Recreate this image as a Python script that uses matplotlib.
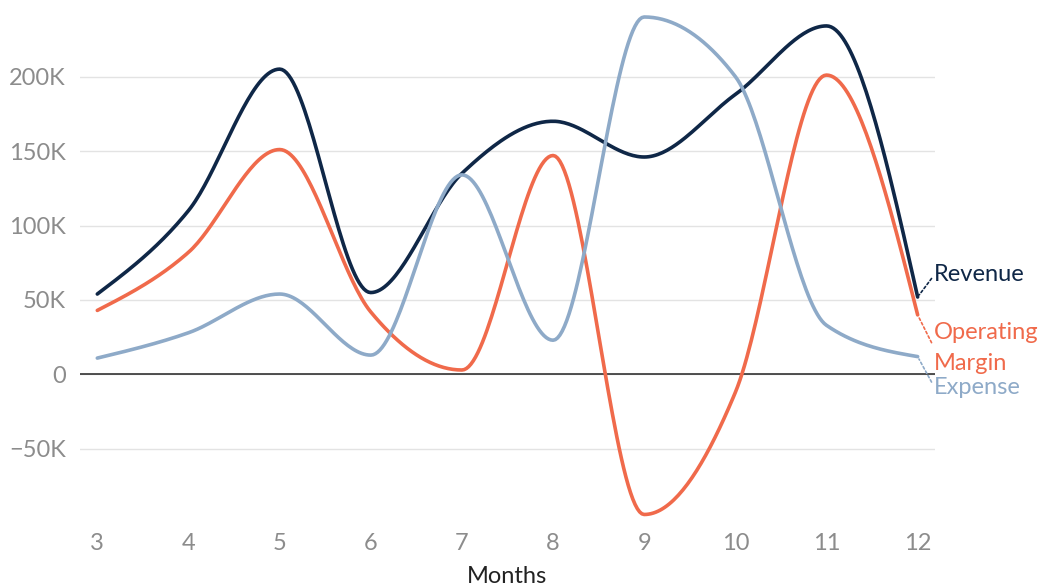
import numpy as np
import matplotlib
matplotlib.use("Agg")
import matplotlib.pyplot as plt
from matplotlib.ticker import FuncFormatter

months = [3, 4, 5, 6, 7, 8, 9, 10, 11, 12]
revenue = [54000, 110000, 205000, 55000, 135000, 170000, 146000, 188000, 234000, 52000]
expense = [11000, 28000, 54000, 13000, 134000, 23000, 240000, 200000, 33000, 12000]
margin = [43000, 82000, 151000, 42000, 3000, 147000, -94000, -12000, 201000, 40000]

series = [
    ("Revenue", revenue, "#0f2747"),
    ("Operating\nMargin", margin, "#f06a4b"),
    ("Expense", expense, "#8eaac8"),
]
label_offsets = {"Revenue": (12, 16), "Operating\nMargin": (12, -24), "Expense": (12, -22)}


def monotone(x, y, n=40):
    """Monotone cubic (Fritsch-Carlson style, like d3.curveMonotoneX)."""
    x = np.asarray(x, float); y = np.asarray(y, float)
    h = np.diff(x); s = np.diff(y) / h
    m = np.zeros_like(y)
    for i in range(1, len(y) - 1):
        p = (s[i - 1] * h[i] + s[i] * h[i - 1]) / (h[i - 1] + h[i])
        m[i] = (np.sign(s[i - 1]) + np.sign(s[i])) * min(abs(s[i - 1]), abs(s[i]), 0.5 * abs(p))
    m[0] = (3 * s[0] - m[1]) / 2
    m[-1] = (3 * s[-1] - m[-2]) / 2
    xs, ys = [], []
    for i in range(len(h)):
        t = np.linspace(0, 1, n, endpoint=(i == len(h) - 1))
        h00 = 2 * t**3 - 3 * t**2 + 1; h10 = t**3 - 2 * t**2 + t
        h01 = -2 * t**3 + 3 * t**2; h11 = t**3 - t**2
        xs.append(x[i] + t * h[i])
        ys.append(h00 * y[i] + h10 * h[i] * m[i] + h01 * y[i + 1] + h11 * h[i] * m[i + 1])
    return np.concatenate(xs), np.concatenate(ys)


plt.rcParams["font.family"] = ["Lato", "DejaVu Sans"]
fig = plt.figure(figsize=(10.51, 5.86), dpi=100)
ax = fig.add_axes([0.0761, 0.1195, 0.8135, 0.8515])

for name, vals, col in series:
    xs, ys = monotone(months, vals)
    ax.plot(xs, ys, color=col, lw=2.6, solid_capstyle="round", clip_on=False, zorder=3)
    ax.annotate(name, xy=(months[-1], vals[-1]), xytext=label_offsets[name],
                textcoords="offset points", color=col, fontsize=17, va="center", ha="left",
                linespacing=1.6,
                arrowprops=dict(arrowstyle="-", linestyle=(0, (1.5, 1.5)), color=col, lw=1.2,
                                shrinkA=0, shrinkB=2, relpos=(0, 0.5)),
                annotation_clip=False)

ax.set_xlim(2.81, 12.19)
ax.set_ylim(-95000, 240000)
ax.set_xticks(months)
ax.set_yticks([-50000, 0, 50000, 100000, 150000, 200000])
ax.yaxis.set_major_formatter(FuncFormatter(
    lambda v, _: "0" if v == 0 else f"{v / 1000:.0f}K".replace("-", "\u2212")))
ax.grid(axis="y", color="#e3e3e3", lw=1)
ax.axhline(0, color="#222222", lw=1.1, zorder=2)
for sp in ax.spines.values():
    sp.set_visible(False)
ax.tick_params(length=0, labelsize=17, labelcolor="#8c8c8c")
ax.tick_params(axis="x", pad=12)
ax.tick_params(axis="y", pad=10)
ax.set_xlabel("Months", fontsize=17, color="#222222", labelpad=9)

fig.savefig("out.png", dpi=100)
